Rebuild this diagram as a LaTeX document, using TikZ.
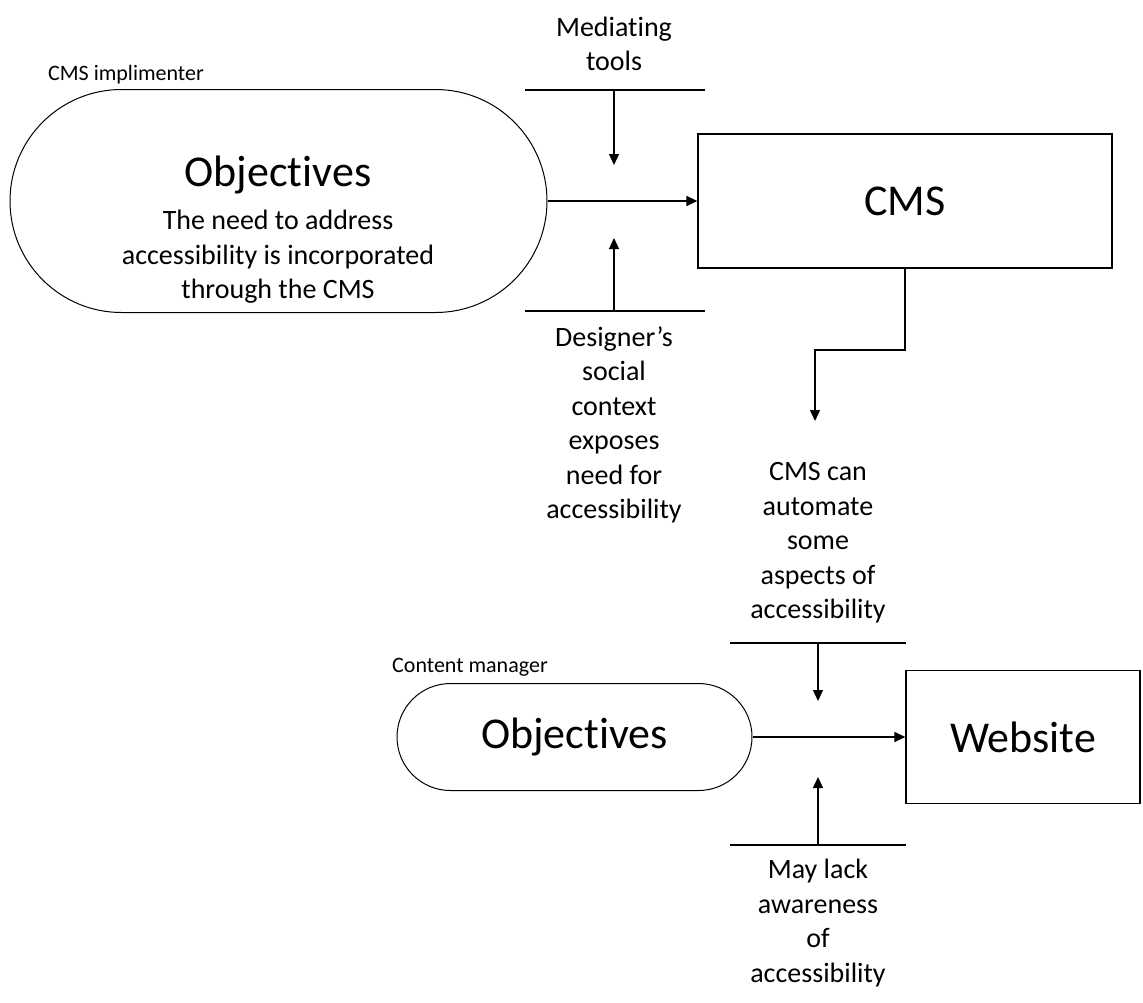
\documentclass[tikz,border=0pt]{standalone}
\usepackage{fontspec}
\setmainfont{Carlito}[RawFeature={-liga;-clig;-calt;-dlig;-rlig}]
\usetikzlibrary{arrows.meta}

% keep "t" and "i" as separate glyphs
\newcommand{\tisep}{t\kern0pt i}

\tikzset{
  pill/.style={draw, line width=1pt, rounded corners=#1, inner sep=0pt},
  box/.style={draw, line width=1.3pt, inner sep=0pt},
  bigtext/.style={font=\fontsize{44}{50}\selectfont, inner sep=0pt},
  bodytext/.style={font=\fontsize{28}{34.5}\selectfont, align=center, inner sep=0pt},
  roletext/.style={font=\fontsize{22}{26}\selectfont, inner sep=0pt, anchor=west},
  bar/.style={line width=1.3pt},
  flow/.style={line width=1.3pt, -{Triangle[length=11pt,width=10pt]}},
}

\begin{document}
\begin{tikzpicture}[x=1pt, y=-1pt]
  \useasboundingbox (0,0) rectangle (1143,1002);

  % --- CMS implementer activity ---
  \node[pill=111.5pt, minimum width=537pt, minimum height=223pt] (obj1) at (278.5,201) {};
  \node[roletext] (role1) at (48,75) {CMS implimenter};
  \node[bigtext] (obj1title) at (278,175) {Objec\tisep ves};
  \node[bodytext] (obj1desc) at (278,257) {The need to address\\accessibility is incorporated\\through the CMS};

  \node[box, minimum width=414pt, minimum height=134pt] (cms) at (905,201) {};
  \node[bigtext] (cmstitle) at (905,201) {CMS};

  \draw[flow] (obj1.east) -- (cms.west);

  % mediating tools (top)
  \node[bodytext] (medtools) at (614,44) {Media\tisep ng\\tools};
  \coordinate (medL) at (525,90);
  \coordinate (medR) at (705,90);
  \coordinate (medC) at (614,90);
  \coordinate (medTip) at (614,165);
  \draw[bar] (medL) -- (medR);
  \draw[flow] (medC) -- (medTip);

  % designer's social context (bottom)
  \coordinate (desL) at (525,311);
  \coordinate (desR) at (705,311);
  \coordinate (desC) at (614,311);
  \coordinate (desTip) at (614,238);
  \draw[bar] (desL) -- (desR);
  \draw[flow] (desC) -- (desTip);
  \node[bodytext] (designer) at (614,425) {Designer’s\\social\\context\\exposes\\need for\\accessibility};

  % CMS feeding into the second activity
  \coordinate (elbow) at (815,350);
  \coordinate (cmsTip) at (815,421);
  \draw[flow] (cms.south) |- (elbow) -- (cmsTip);

  % --- Content manager activity ---
  \node[bodytext] (automate) at (818,543) {CMS can\\automate\\some\\aspects of\\accessibility};
  \coordinate (autL) at (730,643);
  \coordinate (autR) at (906,643);
  \coordinate (autC) at (818,643);
  \coordinate (autTip) at (818,701);
  \draw[bar] (autL) -- (autR);
  \draw[flow] (autC) -- (autTip);

  \node[roletext] (role2) at (392,667) {Content manager};
  \node[pill=53.5pt, minimum width=355pt, minimum height=107pt] (obj2) at (574.5,737) {};
  \node[bigtext] (obj2title) at (574.5,737) {Objec\tisep ves};

  \node[box, minimum width=234pt, minimum height=133pt] (web) at (1023,737) {};
  \node[bigtext] (webtitle) at (1023,737) {Website};

  \draw[flow] (obj2.east) -- (web.west);

  \coordinate (lackL) at (730,845);
  \coordinate (lackR) at (906,845);
  \coordinate (lackC) at (818,845);
  \coordinate (lackTip) at (818,777);
  \draw[bar] (lackL) -- (lackR);
  \draw[flow] (lackC) -- (lackTip);
  \node[bodytext] (lack) at (818,923) {May lack\\awareness\\of\\accessibility};
\end{tikzpicture}
\end{document}
